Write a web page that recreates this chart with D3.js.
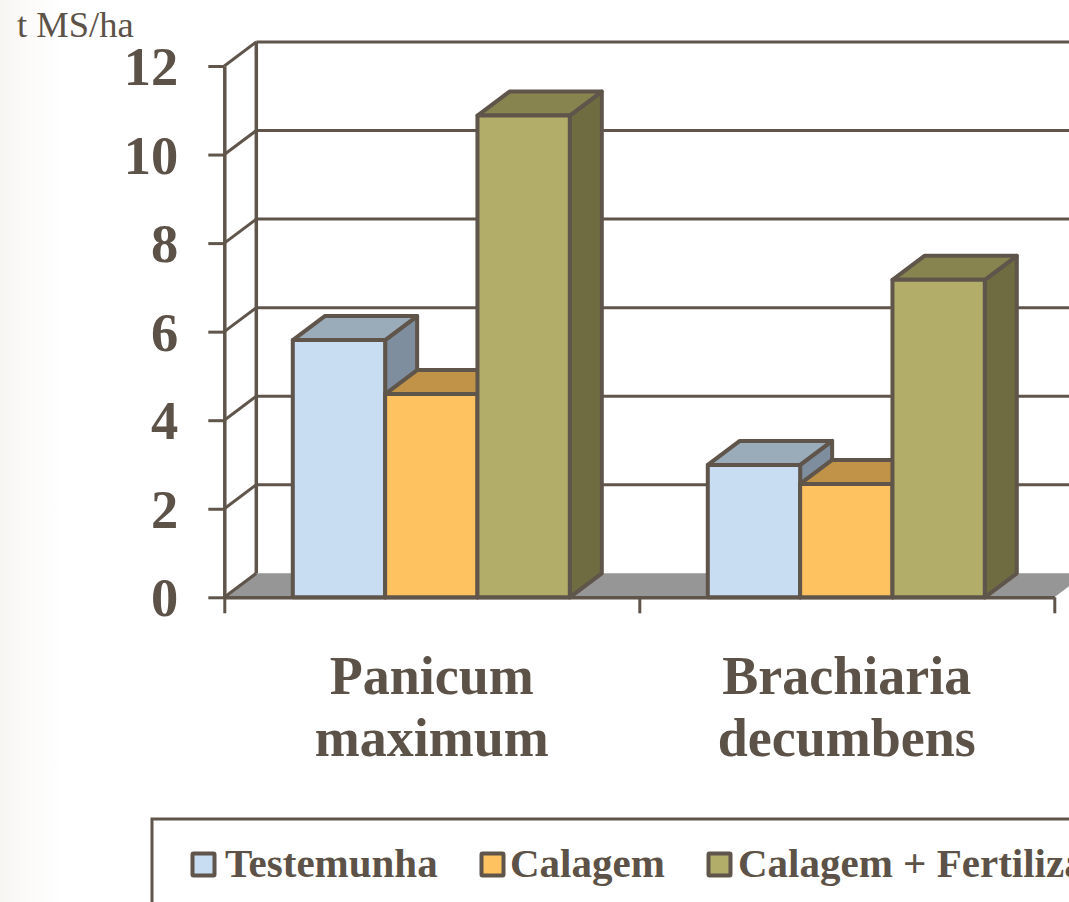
<!DOCTYPE html>
<html>
<head>
<meta charset="utf-8">
<script src="https://cdn.jsdelivr.net/npm/d3@7"></script>
<style>
  html, body { margin: 0; padding: 0; overflow: hidden; background: #fff; }
  #plot { width: 1069px; height: 902px; background: linear-gradient(to right, #f8f6f3 0, #fcfbfa 30px, #fff 65px); }
  svg { display: block; }
  text { font-family: "Liberation Serif", serif; fill: #5c5247; }
  .axis text { font-size: 54.5px; font-weight: bold; }
  .axis path.domain { stroke: #5f554b; stroke-width: 3.5; }
  .axis line { stroke: #5f554b; stroke-width: 3; }
</style>
</head>
<body>
<div id="plot"></div>
<script>
// Data
var categories = ["Panicum maximum", "Brachiaria decumbens"];
var categoryLines = [["Panicum", "maximum"], ["Brachiaria", "decumbens"]];
var seriesNames = ["Testemunha", "Calagem", "Calagem + Fertilização"];
var testemunha = [5.81, 2.99];
var calagem = [4.59, 2.56];
var calagemFert = [10.88, 7.17];
var yTicks = [0, 2, 4, 6, 8, 10, 12];

var seriesValues = [testemunha, calagem, calagemFert];
var frontColors = ["#c9ddf2", "#fec260", "#b2ae69"];
var topColors = ["#9aabba", "#c09349", "#87844f"];
var sideColors = ["#7f8e9e", "#a07a3c", "#706c42"];

var w = 1069, h = 902;
var lineColor = "#5f554b";

// Depth of the 3D box
var depthX = 32, depthY = -24;

var svg = d3.select("#plot").append("svg")
    .attr("width", w)
    .attr("height", h);

// Scales
var yScale = d3.scaleLinear().domain([0, 12]).range([597.3, 66]);
var xScale = d3.scaleBand().domain(categories).range([224.3, 1054.3]);
var barScale = d3.scaleBand().domain(seriesNames).range([68.5, 345.5]);

var poly = function(points) {
  return points.map(function(p) { return p.join(","); }).join(" ");
};

// Floor
var y0 = yScale(0);
svg.append("polygon")
    .attr("points", poly([[xScale.range()[0], y0], [xScale.range()[0] + depthX, y0 + depthY],
      [xScale.range()[1] + depthX, y0 + depthY], [xScale.range()[1], y0]]))
    .attr("fill", "#969696");

// Back wall lines
svg.selectAll(".grid")
    .data(yTicks.slice(1))
    .enter().append("line")
    .attr("class", "grid")
    .attr("x1", xScale.range()[0] + depthX)
    .attr("x2", w + 40)
    .attr("y1", function(d) { return yScale(d) + depthY; })
    .attr("y2", function(d) { return yScale(d) + depthY; })
    .attr("stroke", lineColor)
    .attr("stroke-width", 3);

// Side wall lines
svg.selectAll(".gridSide")
    .data(yTicks)
    .enter().append("line")
    .attr("class", "gridSide")
    .attr("x1", xScale.range()[0])
    .attr("x2", xScale.range()[0] + depthX)
    .attr("y1", function(d) { return yScale(d); })
    .attr("y2", function(d) { return yScale(d) + depthY; })
    .attr("stroke", lineColor)
    .attr("stroke-width", 3);

// Back wall left edge
svg.append("line")
    .attr("x1", xScale.range()[0] + depthX)
    .attr("x2", xScale.range()[0] + depthX)
    .attr("y1", yScale(12) + depthY)
    .attr("y2", yScale(0) + depthY)
    .attr("stroke", lineColor)
    .attr("stroke-width", 3.5);

// Bars, left to right so the next bar covers the side of the one before
categories.forEach(function(cat, c) {
  seriesNames.forEach(function(name, s) {
    var x0 = xScale(cat) + barScale(name);
    var x1 = x0 + barScale.bandwidth();
    var yTop = yScale(seriesValues[s][c]);
    var g = svg.append("g")
        .attr("stroke", lineColor)
        .attr("stroke-width", 4)
        .attr("stroke-linejoin", "round");
    g.append("polygon")
        .attr("points", poly([[x1, yTop], [x1 + depthX, yTop + depthY], [x1 + depthX, y0 + depthY], [x1, y0]]))
        .attr("fill", sideColors[s]);
    g.append("polygon")
        .attr("points", poly([[x0, yTop], [x0 + depthX, yTop + depthY], [x1 + depthX, yTop + depthY], [x1, yTop]]))
        .attr("fill", topColors[s]);
    g.append("rect")
        .attr("x", x0)
        .attr("y", yTop)
        .attr("width", x1 - x0)
        .attr("height", y0 - yTop)
        .attr("fill", frontColors[s]);
  });
});

// Axes
var yAxis = d3.axisLeft(yScale)
    .tickValues(yTicks)
    .tickSize(16)
    .tickSizeOuter(0)
    .tickPadding(30);
svg.append("g")
    .attr("class", "axis")
    .attr("transform", "translate(" + xScale.range()[0] + ",0)")
    .call(yAxis);
svg.selectAll(".axis .tick text").attr("dy", "0.34em");

var xAxis = d3.axisBottom(d3.scaleLinear().domain([0, 2]).range(xScale.range()))
    .tickValues([0, 1, 2])
    .tickFormat("")
    .tickSize(16)
    .tickSizeOuter(0);
svg.append("g")
    .attr("class", "axis")
    .attr("transform", "translate(0," + y0 + ")")
    .call(xAxis);

// Category labels
categoryLines.forEach(function(lines, c) {
  svg.selectAll(".cat" + c)
      .data(lines)
      .enter().append("text")
      .attr("class", "cat" + c)
      .attr("x", xScale(categories[c]) + xScale.bandwidth() / 2)
      .attr("y", function(d, i) { return 694 + i * 62; })
      .attr("text-anchor", "middle")
      .attr("font-size", 54)
      .attr("font-weight", "bold")
      .text(function(d) { return d; });
});

// Unit label
svg.append("text")
    .attr("x", 17)
    .attr("y", 37)
    .attr("font-size", 36.5)
    .text("t MS/ha");

// Legend box runs off the page
svg.append("rect")
    .attr("x", 152)
    .attr("y", 819)
    .attr("width", 1000)
    .attr("height", 200)
    .attr("fill", "none")
    .attr("stroke", lineColor)
    .attr("stroke-width", 3);

var legendX = [191, 480, 707];
var legendTextX = [34, 30, 31];
var legend = svg.selectAll(".legendItem")
    .data(seriesNames)
    .enter().append("g")
    .attr("class", "legendItem")
    .attr("transform", function(d, i) { return "translate(" + legendX[i] + ",852)"; });

legend.append("rect")
    .attr("x", 1.5)
    .attr("y", 1.5)
    .attr("width", 22)
    .attr("height", 22)
    .attr("rx", 1)
    .attr("fill", function(d, i) { return frontColors[i]; })
    .attr("stroke", lineColor)
    .attr("stroke-width", 4);

legend.append("text")
    .attr("x", function(d, i) { return legendTextX[i]; })
    .attr("y", 25)
    .attr("font-size", 41)
    .attr("font-weight", "bold")
    .text(function(d) { return d; });
</script>
</body>
</html>
